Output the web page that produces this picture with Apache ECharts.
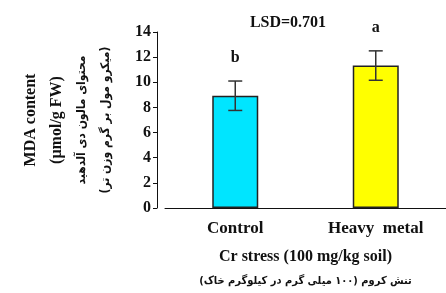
<!DOCTYPE html>
<html>
<head>
<meta charset="utf-8">
<script src="https://cdn.jsdelivr.net/npm/echarts@6/dist/echarts.min.js"></script>
<style>
  html, body { margin: 0; padding: 0; background: #fff; }
  #main { width: 446px; height: 293px; }
</style>
</head>
<body>
<div id="main"></div>
<script>
var categories = ['Control', 'Heavy  metal'];
var mdaValues = [8.93, 11.33];
var mdaErrors = [1.17, 1.17];
var sigLetters = ['b', 'a'];
var barColors = ['#00e5ff', '#ffff00'];
var lsdText = 'LSD=0.701';

var serif = "'Liberation Serif', 'Times New Roman', serif";
var persian = "'DejaVu Sans Condensed', 'DejaVu Sans', sans-serif";

var chart = echarts.init(document.getElementById('main'));

var errData = [];
for (var i = 0; i < mdaValues.length; i++) {
  errData.push([i, mdaValues[i], mdaErrors[i], sigLetters[i]]);
}

var option = {
  animation: false,
  title: {
    text: lsdText,
    left: 283,
    top: 10,
    textAlign: 'center',
    textStyle: { fontFamily: serif, fontWeight: 'bold', fontSize: 16, color: '#111' }
  },
  grid: { left: 165, right: -3, top: 32, bottom: 85 },
  xAxis: {
    type: 'category',
    data: categories,
    axisTick: { show: false },
    axisLine: { lineStyle: { color: '#111', width: 1 } },
    axisLabel: { margin: 12, fontFamily: serif, fontWeight: 'bold', fontSize: 17, color: '#111' },
    name: '{en|Cr stress (100 mg/kg soil)}\n{fa|تنش کروم (۱۰۰ میلی گرم در کیلوگرم خاک)}',
    nameLocation: 'middle',
    nameGap: 37,
    nameTextStyle: {
      rich: {
        en: { fontFamily: serif, fontWeight: 'bold', fontSize: 16, color: '#111', lineHeight: 24, align: 'center' },
        fa: { fontFamily: persian, fontWeight: 'bold', fontSize: 11, color: '#111', lineHeight: 24, align: 'center' }
      }
    }
  },
  yAxis: {
    type: 'value',
    min: 0,
    max: 14,
    interval: 2,
    offset: 8,
    splitLine: { show: false },
    axisLine: { show: true, lineStyle: { color: '#111', width: 1 } },
    axisTick: { show: true, length: 4, lineStyle: { color: '#111' } },
    axisLabel: { margin: 6, fontFamily: serif, fontWeight: 'bold', fontSize: 16, color: '#111' },
    name: '{en|MDA content}\n{en|(µmol/g FW)}\n{fa|محتوای مالون دی آلدهید}\n{fa|(میکرو مول بر گرم وزن تر)}',
    nameLocation: 'middle',
    nameGap: 39,
    nameRotate: 90,
    nameTextStyle: {
      rich: {
        en: { fontFamily: serif, fontWeight: 'bold', fontSize: 16, color: '#111', lineHeight: 26, align: 'center' },
        fa: { fontFamily: persian, fontWeight: 'bold', fontSize: 12, color: '#111', lineHeight: 24, align: 'center' }
      }
    }
  },
  series: [
    {
      type: 'bar',
      barWidth: 46,
      data: mdaValues.map(function (v, i) {
        return { value: v, itemStyle: { color: barColors[i] } };
      }),
      itemStyle: { borderColor: '#222', borderWidth: 1.5 }
    },
    {
      type: 'custom',
      data: errData,
      z: 10,
      renderItem: function (params, api) {
        var x = api.value(0);
        var v = api.value(1);
        var e = api.value(2);
        var top = api.coord([x, v + e]);
        var bot = api.coord([x, v - e]);
        var cap = 7;
        var st = { stroke: '#333', lineWidth: 1.5 };
        return {
          type: 'group',
          children: [
            { type: 'line', shape: { x1: top[0], y1: top[1], x2: bot[0], y2: bot[1] }, style: st },
            { type: 'line', shape: { x1: top[0] - cap, y1: top[1], x2: top[0] + cap, y2: top[1] }, style: st },
            { type: 'line', shape: { x1: bot[0] - cap, y1: bot[1], x2: bot[0] + cap, y2: bot[1] }, style: st },
            {
              type: 'text',
              x: top[0], y: top[1] - 23,
              style: {
                text: errData[params.dataIndex][3],
                fontFamily: serif, fontWeight: 'bold', fontSize: 16, fill: '#111',
                align: 'center', verticalAlign: 'middle'
              }
            }
          ]
        };
      }
    }
  ]
};

chart.setOption(option);
</script>
</body>
</html>
